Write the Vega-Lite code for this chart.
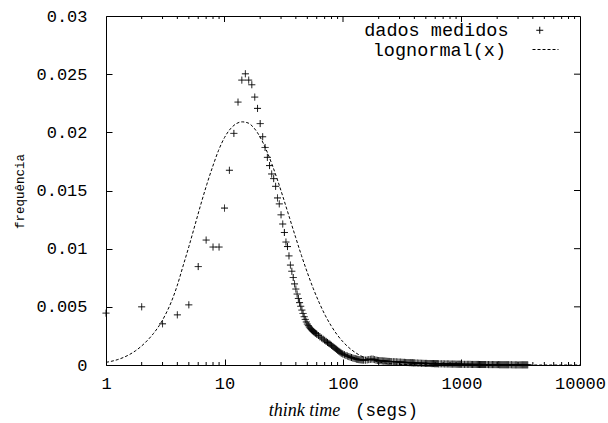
{
"$schema":"https://vega.github.io/schema/vega-lite/v6.json",
"width":474,"height":349,
"autosize":{"type":"none"},
"padding":{"left":106,"top":16,"right":28,"bottom":58},
"background":"white",
"config":{"view":{"stroke":"black","strokeWidth":1}},
"datasets":{
"measured":[
{"x":1,"y":0.00446},{"x":2,"y":0.0050},{"x":3,"y":0.00354},{"x":4,"y":0.00431},{"x":5,"y":0.00517},{"x":6,"y":0.00846},{"x":7,"y":0.01074},{"x":8,"y":0.01014},{"x":9,"y":0.01014},{"x":10,"y":0.01349},
{"x":11,"y":0.01674},{"x":12,"y":0.01991},{"x":13,"y":0.0226},{"x":14,"y":0.02449},{"x":15,"y":0.02503},{"x":16,"y":0.02449},{"x":17,"y":0.02409},{"x":18,"y":0.02303},{"x":19,"y":0.02206},{"x":20,"y":0.02075},
{"x":21,"y":0.01962},{"x":22,"y":0.0187},{"x":23,"y":0.01785},{"x":24,"y":0.01714},{"x":25,"y":0.01642},{"x":26,"y":0.01602},{"x":27,"y":0.01536},{"x":28,"y":0.01436},{"x":29,"y":0.01385},{"x":30,"y":0.01291},
{"x":31,"y":0.01212},{"x":32,"y":0.01139},{"x":33,"y":0.01057},{"x":34,"y":0.01018},{"x":35,"y":0.00938},{"x":36,"y":0.00859},{"x":37,"y":0.00806},{"x":38,"y":0.00752},{"x":39,"y":0.00697},{"x":40,"y":0.00653},
{"x":41,"y":0.0061},{"x":42,"y":0.00572},{"x":43,"y":0.00536},{"x":44,"y":0.00505},{"x":45,"y":0.00472},{"x":46,"y":0.00443},{"x":47,"y":0.00415},{"x":48,"y":0.00392},{"x":49,"y":0.0037},{"x":50,"y":0.00352},
{"x":51,"y":0.00338},{"x":52,"y":0.00326},{"x":53,"y":0.00315},{"x":54,"y":0.00305},{"x":55,"y":0.00296},{"x":56,"y":0.00289},{"x":57,"y":0.00283},{"x":58,"y":0.00277},{"x":59,"y":0.00271},{"x":60,"y":0.00265},
{"x":62,"y":0.00253},{"x":64,"y":0.00241},{"x":66,"y":0.00232},{"x":68,"y":0.00222},{"x":70,"y":0.00213},{"x":72,"y":0.00203},{"x":74,"y":0.00194},{"x":76,"y":0.00186},{"x":78,"y":0.00178},{"x":80,"y":0.00169},
{"x":82,"y":0.0016},{"x":84,"y":0.00151},{"x":86,"y":0.00143},{"x":88,"y":0.00135},{"x":90,"y":0.00127},{"x":92,"y":0.00119},{"x":94,"y":0.00112},{"x":96,"y":0.00105},{"x":98,"y":0.00099},{"x":100,"y":0.00093},
{"x":103,"y":0.00088},{"x":106,"y":0.00082},{"x":109,"y":0.00077},{"x":112,"y":0.00072},{"x":115,"y":0.00068},{"x":118,"y":0.00064},{"x":121,"y":0.0006},{"x":124,"y":0.00057},{"x":127,"y":0.00054},{"x":130,"y":0.00051},
{"x":133,"y":0.00049},{"x":136,"y":0.00046},{"x":139,"y":0.00045},{"x":142,"y":0.00044},{"x":145,"y":0.00043},{"x":148,"y":0.00043},{"x":150,"y":0.00043},{"x":155,"y":0.00042},{"x":160,"y":0.00044},{"x":165,"y":0.00046},
{"x":170,"y":0.00049},{"x":175,"y":0.00051},{"x":180,"y":0.0005},{"x":185,"y":0.00046},{"x":190,"y":0.00042},{"x":195,"y":0.0004},{"x":200,"y":0.00038},{"x":205,"y":0.00037},{"x":210,"y":0.00036},{"x":215,"y":0.00035},
{"x":220,"y":0.00034},{"x":225,"y":0.00034},{"x":230,"y":0.00033},{"x":235,"y":0.00032},{"x":240,"y":0.00031},{"x":245,"y":0.00031},{"x":250,"y":0.0003},{"x":258,"y":0.00029},{"x":266,"y":0.00028},{"x":274,"y":0.00028},
{"x":282,"y":0.00027},{"x":290,"y":0.00026},{"x":298,"y":0.00025},{"x":306,"y":0.00025},{"x":314,"y":0.00024},{"x":322,"y":0.00023},{"x":330,"y":0.00023},{"x":338,"y":0.00022},{"x":346,"y":0.00021},{"x":354,"y":0.00021},
{"x":362,"y":0.0002},{"x":370,"y":0.0002},{"x":378,"y":0.00019},{"x":386,"y":0.00019},{"x":394,"y":0.00018},{"x":400,"y":0.00018},{"x":412,"y":0.00017},{"x":424,"y":0.00017},{"x":436,"y":0.00016},{"x":448,"y":0.00016},
{"x":460,"y":0.00015},{"x":472,"y":0.00015},{"x":484,"y":0.00014},{"x":496,"y":0.00014},{"x":508,"y":0.00014},{"x":520,"y":0.00013},{"x":532,"y":0.00013},{"x":544,"y":0.00013},{"x":556,"y":0.00012},{"x":568,"y":0.00012},
{"x":580,"y":0.00012},{"x":592,"y":0.00011},{"x":604,"y":0.00011},{"x":616,"y":0.00011},{"x":628,"y":0.00011},{"x":640,"y":0.0001},{"x":660,"y":0.0001},{"x":680,"y":0.0001},{"x":700,"y":0.0001},{"x":720,"y":0.00009},
{"x":740,"y":0.00009},{"x":760,"y":0.00009},{"x":780,"y":0.00009},{"x":800,"y":0.00008},{"x":820,"y":0.00008},{"x":840,"y":0.00008},{"x":860,"y":0.00008},{"x":880,"y":0.00008},{"x":900,"y":0.00007},{"x":920,"y":0.00007},
{"x":940,"y":0.00007},{"x":960,"y":0.00007},{"x":980,"y":0.00007},{"x":1000,"y":0.00007},{"x":1030,"y":0.00006},{"x":1060,"y":0.00006},{"x":1090,"y":0.00006},{"x":1120,"y":0.00006},{"x":1150,"y":0.00006},{"x":1180,"y":0.00006},
{"x":1210,"y":0.00005},{"x":1240,"y":0.00005},{"x":1270,"y":0.00005},{"x":1300,"y":0.00005},{"x":1330,"y":0.00005},{"x":1360,"y":0.00005},{"x":1390,"y":0.00005},{"x":1420,"y":0.00004},{"x":1450,"y":0.00004},{"x":1480,"y":0.00004},
{"x":1510,"y":0.00004},{"x":1540,"y":0.00004},{"x":1570,"y":0.00004},{"x":1600,"y":0.00004},{"x":1645,"y":0.00004},{"x":1690,"y":0.00003},{"x":1735,"y":0.00003},{"x":1780,"y":0.00003},{"x":1825,"y":0.00003},{"x":1870,"y":0.00003},
{"x":1915,"y":0.00003},{"x":1960,"y":0.00003},{"x":2005,"y":0.00003},{"x":2050,"y":0.00003},{"x":2095,"y":0.00002},{"x":2140,"y":0.00002},{"x":2185,"y":0.00002},{"x":2230,"y":0.00002},{"x":2275,"y":0.00002},{"x":2320,"y":0.00002},
{"x":2365,"y":0.00002},{"x":2410,"y":0.00002},{"x":2455,"y":0.00002},{"x":2500,"y":0.00002},{"x":2570,"y":0.00002},{"x":2640,"y":0.00002},{"x":2710,"y":0.00001},{"x":2780,"y":0.00001},{"x":2850,"y":0.00001},{"x":2920,"y":0.00001},
{"x":2990,"y":0.00001},{"x":3060,"y":0.00001},{"x":3130,"y":0.00001},{"x":3200,"y":0.00001},{"x":3270,"y":0.00001},{"x":3340,"y":0.00001},{"x":3410,"y":0.00001},{"x":3480,"y":0.00001},{"x":3550,"y":0.00001},{"x":3620,"y":0.00001}
],
"curve":[
{"x":1,"y":0.00023},{"x":1.122,"y":0.00033},{"x":1.2589,"y":0.00047},{"x":1.4125,"y":0.00066},{"x":1.5849,"y":0.00091},{"x":1.7783,"y":0.00123},{"x":1.9953,"y":0.00163},{"x":2.2387,"y":0.00212},{"x":2.5119,"y":0.0027},{"x":2.8184,"y":0.0034},
{"x":3.1623,"y":0.0043},{"x":3.5481,"y":0.0054},{"x":3.9811,"y":0.0068},{"x":4.4668,"y":0.0085},{"x":5.0119,"y":0.0102},{"x":5.6234,"y":0.012},{"x":6.3096,"y":0.0138},{"x":7.0795,"y":0.0155},{"x":7.9433,"y":0.01705},{"x":8.9125,"y":0.01845},
{"x":10,"y":0.01955},{"x":11.22,"y":0.0203},{"x":12.589,"y":0.02075},{"x":14.125,"y":0.0209},{"x":15.849,"y":0.0208},{"x":17.783,"y":0.02036},{"x":19.953,"y":0.0196},{"x":22.387,"y":0.01855},{"x":25.119,"y":0.01727},{"x":28.184,"y":0.01582},
{"x":31.623,"y":0.01424},{"x":35.481,"y":0.01261},{"x":39.811,"y":0.01098},{"x":44.668,"y":0.0094},{"x":50.119,"y":0.00792},{"x":56.234,"y":0.00655},{"x":63.096,"y":0.00534},{"x":70.795,"y":0.00427},{"x":79.433,"y":0.00337},{"x":89.125,"y":0.00261},
{"x":100,"y":0.00199},{"x":112.2,"y":0.00149},{"x":125.89,"y":0.0011},{"x":141.25,"y":0.00079},{"x":158.49,"y":0.00057},{"x":177.83,"y":0.0004},{"x":199.53,"y":0.00027},{"x":251.19,"y":0.00012},{"x":316.23,"y":0.00005},{"x":398.11,"y":0.00002},
{"x":630.96,"y":0.000003},{"x":1000,"y":0},{"x":3162.3,"y":0},{"x":10000,"y":0}
],
"xMajorTicks":[{"v":10},{"v":100},{"v":1000}],
"xMinorTicks":[{"v":2},{"v":3},{"v":4},{"v":5},{"v":6},{"v":7},{"v":8},{"v":9},{"v":20},{"v":30},{"v":40},{"v":50},{"v":60},{"v":70},{"v":80},{"v":90},{"v":200},{"v":300},{"v":400},{"v":500},{"v":600},{"v":700},{"v":800},{"v":900},{"v":2000},{"v":3000},{"v":4000},{"v":5000},{"v":6000},{"v":7000},{"v":8000},{"v":9000}],
"yMajorTicks":[{"v":0.005},{"v":0.01},{"v":0.015},{"v":0.02},{"v":0.025}]
},
"layer":[
{
"data":{"name":"measured"},
"mark":{"type":"point","filled":false,"stroke":"black","strokeWidth":1,"opacity":1,"size":49},
"encoding":{
"x":{"field":"x","type":"quantitative","scale":{"type":"log","domain":[1,10000],"nice":false},
"axis":{"orient":"bottom","offset":-6,"values":[1,10,100,1000,10000],"format":"d","grid":false,"domain":false,"ticks":true,"tickSize":6,"tickWidth":1,"tickColor":"black",
"labelFont":"Liberation Mono","labelFontSize":17,"labelColor":"black","labelPadding":10,"labelFlush":false,"labelOverlap":false,"labelBound":false,
"title":"think time","titleFont":"Liberation Serif","titleFontStyle":"italic","titleFontWeight":"normal","titleFontSize":18,"titleColor":"black","titleX":198,"titleY":51,"titleAlign":"center","titleBaseline":"middle","titleAngle":0}},
"y":{"field":"y","type":"quantitative","scale":{"domain":[0,0.03],"nice":false,"zero":false},
"axis":{"orient":"left","offset":-6,"values":[0,0.005,0.01,0.015,0.02,0.025,0.03],"format":"~g","grid":false,"domain":false,"ticks":true,"tickSize":6,"tickWidth":1,"tickColor":"black",
"labelFont":"Liberation Mono","labelFontSize":17,"labelColor":"black","labelPadding":19,"labelFlush":false,"labelOverlap":false,"labelBound":false,
"title":"frequência","titleFont":"Liberation Mono","titleFontSize":12.5,"titleFontWeight":"normal","titleColor":"black","titleX":-93,"titleY":175,"titleAlign":"center","titleBaseline":"middle","titleAngle":-90}},
"shape":{"datum":"dados medidos","type":"nominal","scale":{"domain":["dados medidos","lognormal(x)"],"range":["M-1,0H1M0,-1V1","stroke"]},
"legend":{"title":null,"values":["dados medidos"],"orient":"none","legendX":424.5,"legendY":5,"padding":0,"labelFont":"Liberation Mono","labelFontSize":18.5,"labelColor":"black","labelAlign":"right","labelOffset":-40.5,"symbolSize":49,"symbolStrokeColor":"black","symbolStrokeWidth":1,"symbolFillColor":"transparent"}},
"strokeDash":{"datum":"dados medidos","type":"nominal","scale":{"domain":["lognormal(x)","dados medidos"],"range":[[3,2],[1,0]]},
"legend":{"title":null,"values":["lognormal(x)"],"orient":"none","legendX":426,"legendY":20,"padding":0,"labelFont":"Liberation Mono","labelFontSize":18.5,"labelColor":"black","labelAlign":"right","labelOffset":-53,"symbolType":"stroke","symbolSize":676,"symbolStrokeColor":"black","symbolStrokeWidth":1,"symbolFillColor":"transparent"}}
}
},
{
"data":{"name":"curve"},
"mark":{"type":"line","color":"black","strokeWidth":1,"strokeDash":[3,2],"interpolate":"monotone"},
"encoding":{
"x":{"field":"x","type":"quantitative","scale":{"type":"log","domain":[1,10000],"nice":false},
"axis":{"orient":"top","values":[1,10,100,1000,10000],"labels":false,"ticks":false,"grid":false,"domain":false,
"title":"(segs)","titleFont":"Liberation Mono","titleFontSize":17.5,"titleFontWeight":"normal","titleColor":"black","titleX":280,"titleY":394,"titleAlign":"center","titleBaseline":"middle","titleAngle":0}},
"y":{"field":"y","type":"quantitative","scale":{"domain":[0,0.03],"nice":false,"zero":false},"axis":null}
}
},
{
"data":{"name":"xMajorTicks"},
"mark":{"type":"tick","orient":"vertical","size":12,"thickness":1,"color":"black","opacity":1,"clip":true},
"encoding":{"x":{"field":"v","type":"quantitative","axis":null},"y":{"datum":0.03,"type":"quantitative","axis":null}}
},
{
"data":{"name":"xMinorTicks"},
"mark":{"type":"tick","orient":"vertical","size":6,"thickness":1,"color":"black","opacity":1,"clip":true},
"encoding":{"x":{"field":"v","type":"quantitative","axis":null},"y":{"datum":0,"type":"quantitative","axis":null}}
},
{
"data":{"name":"xMinorTicks"},
"mark":{"type":"tick","orient":"vertical","size":6,"thickness":1,"color":"black","opacity":1,"clip":true},
"encoding":{"x":{"field":"v","type":"quantitative","axis":null},"y":{"datum":0.03,"type":"quantitative","axis":null}}
},
{
"data":{"name":"yMajorTicks"},
"mark":{"type":"tick","orient":"horizontal","size":12,"thickness":1,"color":"black","opacity":1,"clip":true},
"encoding":{"y":{"field":"v","type":"quantitative","axis":null},"x":{"datum":10000,"type":"quantitative","axis":null}}
}
],
"resolve":{"axis":{"x":"independent","y":"independent"}}
}
